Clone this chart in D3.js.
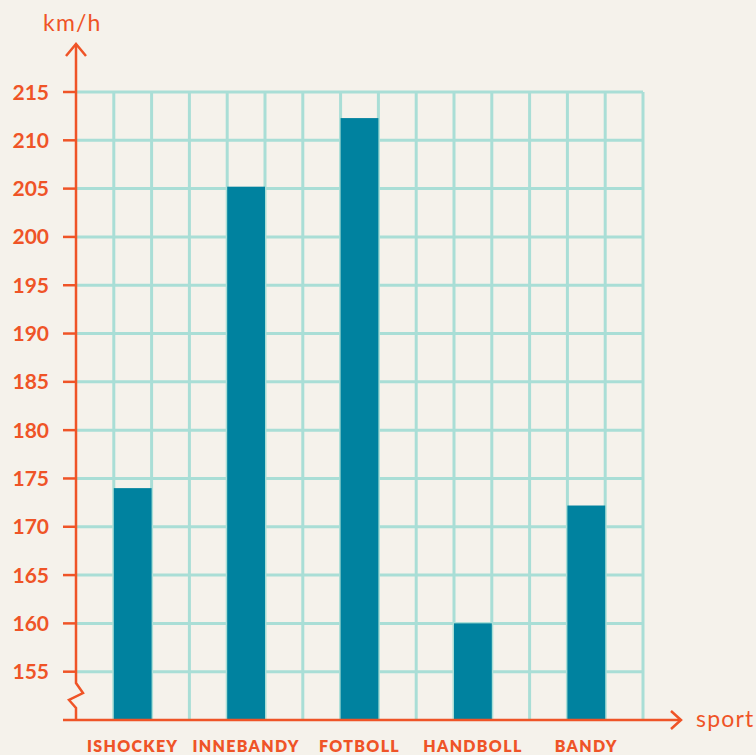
<!DOCTYPE html>
<html><head><meta charset="utf-8">
<script src="https://cdn.jsdelivr.net/npm/d3@7"></script>
<style>
html,body{margin:0;padding:0;background:#F5F2EB;}
svg{display:block;}
text{font-family:Lato,"Open Sans",sans-serif;}
</style></head>
<body>
<svg id="chart" width="756" height="755"></svg>
<script>
const categories = ["ISHOCKEY","INNEBANDY","FOTBOLL","HANDBOLL","BANDY"];
const speeds = [174, 205.2, 212.3, 160, 172.2];
const yTicks = [155,160,165,170,175,180,185,190,195,200,205,210,215];
const yLabel = "km/h";
const xLabel = "sport";

const W = 756, H = 755;
const orange = "#EF5427", grid = "#A9DED6", barCol = "#00829F";
const svg = d3.select("#chart");
svg.append("rect").attr("width",W).attr("height",H).attr("fill","#F5F2EB");

const left = 76, right = 643, bottom = 720;
const y = d3.scaleLinear().domain([150,215]).range([bottom, 92]);
const x = d3.scaleBand().domain(categories).range([left,right]).paddingInner(2/3).paddingOuter(1/3);
const step = x.step()/3;

// grid
const g = svg.append("g");
const nCols = Math.round((right-left)/step);
const colX = d3.range(1, nCols+1).map(i => left + i*step);
g.selectAll("line.v").data(colX).join("line")
  .attr("x1",d=>d).attr("x2",d=>d).attr("y1",y(215)).attr("y2",bottom)
  .attr("stroke",grid).attr("stroke-width",3);
g.selectAll("line.h").data(yTicks).join("line")
  .attr("x1",left).attr("x2",right).attr("y1",d=>y(d)).attr("y2",d=>y(d))
  .attr("stroke",grid).attr("stroke-width",3);

// bars
svg.append("g").selectAll("rect").data(categories).join("rect")
  .attr("x",d=>x(d)).attr("width",x.bandwidth())
  .attr("y",(d,i)=>y(speeds[i])).attr("height",(d,i)=>bottom-y(speeds[i]))
  .attr("fill",barCol);

// y axis with break
const ax = svg.append("g").attr("fill","none").attr("stroke",orange).attr("stroke-width",2.5);
ax.append("path").attr("d",`M${left},${bottom} L${left},708 L${left-7},700 L${left+7},693 L${left},683 L${left},44`);
ax.append("path").attr("d",`M${left-10},56 L${left},44 L${left+10},56`);
ax.selectAll("line.t").data(yTicks).join("line")
  .attr("x1",left-13).attr("x2",left).attr("y1",d=>y(d)).attr("y2",d=>y(d));
// x axis
ax.append("path").attr("d",`M${left-13},${bottom} L681,${bottom}`);
ax.append("path").attr("d",`M671,${bottom-9} L681,${bottom} L671,${bottom+9}`);

// tick labels
svg.append("g").selectAll("text").data(yTicks).join("text")
  .attr("x",49).attr("y",d=>y(d)).attr("dy","0.36em")
  .attr("text-anchor","end").attr("fill",orange)
  .attr("font-size",21).attr("font-weight",700).text(d=>d);

svg.append("text").attr("x",43).attr("y",31).attr("fill",orange)
  .attr("font-size",23).attr("letter-spacing",1.2).text(yLabel);
svg.append("text").attr("x",696).attr("y",727).attr("fill",orange)
  .attr("font-size",23).attr("letter-spacing",1.2).text(xLabel);

svg.append("g").selectAll("text").data(categories).join("text")
  .attr("x",d=>x(d)+x.bandwidth()/2).attr("y",752)
  .attr("text-anchor","middle").attr("fill",orange)
  .attr("font-size",16).attr("font-weight",800).attr("letter-spacing",1.3)
  .text(d=>d);
</script>
</body></html>
